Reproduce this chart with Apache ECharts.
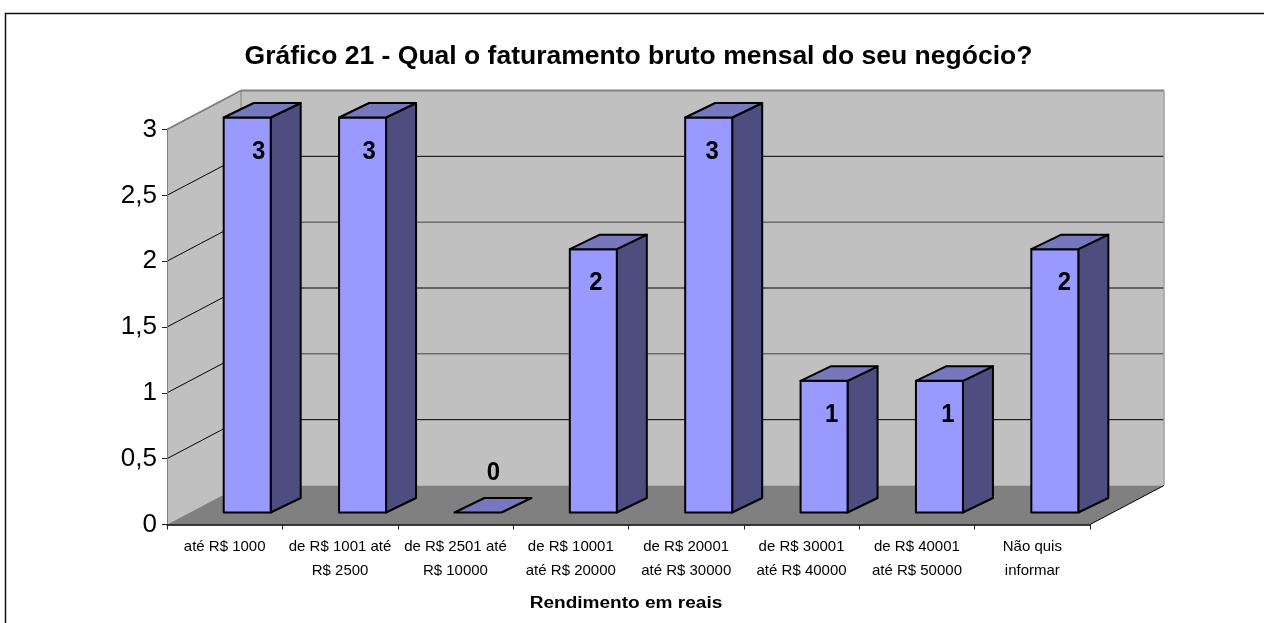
<!DOCTYPE html>
<html>
<head>
<meta charset="utf-8">
<title>Gráfico 21</title>
<style>
  html, body { margin: 0; padding: 0; background: #fff; }
  #chart { width: 1264px; height: 623px; }
</style>
</head>
<body>
<div id="chart"></div>
<script src="https://cdn.jsdelivr.net/npm/echarts@6/dist/echarts.min.js"></script>
<script>
  const titleText = 'Gráfico 21 - Qual o faturamento bruto mensal do seu negócio?';
  const xAxisName = 'Rendimento em reais';
  const categories = [
    'até R$ 1000',
    'de R$ 1001 até\nR$ 2500',
    'de R$ 2501 até\nR$ 10000',
    'de R$ 10001\naté R$ 20000',
    'de R$ 20001\naté R$ 30000',
    'de R$ 30001\naté R$ 40000',
    'de R$ 40001\naté R$ 50000',
    'Não quis\ninformar'
  ];
  const values = [3, 3, 0, 2, 3, 1, 1, 2];
  const gridTicks = [0.5, 1, 1.5, 2, 2.5, 3];

  // fake 3D, everything is an offset from the front plane (the real grid)
  const WALL_DX = 74, WALL_DY = 39;
  const BAR_SHIFT_X = 22.5, BAR_SHIFT_Y = 12;
  const BAR_W = 47, BAR_DX = 30, BAR_DY = 14.5;
  // the value labels do not sit at the same place in every bar
  const labelDx = [34, 29, 38, 25, 26, 30, 31, 32];

  const chart = echarts.init(document.getElementById('chart'), null, { renderer: 'canvas' });

  function poly(points, fill, stroke, width) {
    return {
      type: 'polygon',
      shape: { points: points },
      style: { fill: fill, stroke: stroke || null, lineWidth: width || 0, lineJoin: 'round' }
    };
  }

  function line(x1, y1, x2, y2, color, width) {
    return {
      type: 'line',
      shape: { x1: x1, y1: y1, x2: x2, y2: y2 },
      style: { stroke: color, lineWidth: width || 1 }
    };
  }

  function renderWalls(params, api) {
    const g = params.coordSys;
    const left = g.x, right = g.x + g.width, bottom = g.y + g.height, top = g.y;
    const children = [
      poly([[left + WALL_DX, top - WALL_DY], [right + WALL_DX, top - WALL_DY],
            [right + WALL_DX, bottom - WALL_DY], [left + WALL_DX, bottom - WALL_DY]], '#c0c0c0'),
      poly([[left, top], [left + WALL_DX, top - WALL_DY],
            [left + WALL_DX, bottom - WALL_DY], [left, bottom]], '#c0c0c0'),
      poly([[left, bottom], [left + WALL_DX, bottom - WALL_DY],
            [right + WALL_DX, bottom - WALL_DY], [right, bottom]], '#808080')
    ];
    gridTicks.forEach(function (t, i) {
      const y = api.coord([0, t])[1];
      const color = i % 2 === 0 ? '#000' : '#444';
      children.push(line(left, y, left + WALL_DX, y - WALL_DY, '#000'));
      if (t < 3) {
        children.push(line(left + WALL_DX, y - WALL_DY, right + WALL_DX, y - WALL_DY, color));
      }
    });
    children.push(line(left + WALL_DX, top - WALL_DY, right + WALL_DX, top - WALL_DY, '#808080', 2));
    children.push(line(left, top, left + WALL_DX, top - WALL_DY, '#808080', 1.5));
    children.push(line(left + WALL_DX, top - WALL_DY, left + WALL_DX, bottom - WALL_DY, '#808080'));
    children.push(line(right + WALL_DX, top - WALL_DY, right + WALL_DX, bottom - WALL_DY, '#a0a0a0', 1.5));
    children.push(line(right, bottom, right + WALL_DX, bottom - WALL_DY, '#000', 1));
    return { type: 'group', children: children };
  }

  function renderBar(params, api) {
    const idx = api.value(0);
    const val = api.value(1);
    const top = api.coord([idx, val]);
    const base = api.coord([idx, 0]);
    const x0 = top[0] + BAR_SHIFT_X - BAR_W / 2;
    const x1 = x0 + BAR_W;
    const yt = top[1] - BAR_SHIFT_Y;
    const yb = base[1] - BAR_SHIFT_Y;
    const border = '#000';
    const children = [];
    if (val > 0) {
      children.push(poly([[x1, yt], [x1 + BAR_DX, yt - BAR_DY], [x1 + BAR_DX, yb - BAR_DY], [x1, yb]], '#4d4d80', border, 2));
      children.push(poly([[x0, yt], [x1, yt], [x1, yb], [x0, yb]], '#9999ff', border, 2));
    }
    children.push(poly([[x0, yt], [x0 + BAR_DX, yt - BAR_DY], [x1 + BAR_DX, yt - BAR_DY], [x1, yt]], '#7777bd', border, 2));
    children.push({
      type: 'text',
      x: top[0] + labelDx[idx],
      y: top[1] + (val > 0 ? 22 : -52),
      scaleX: 0.92,
      style: {
        x: 0,
        y: 0,
        text: String(val),
        fill: '#000',
        font: 'bold 26px "Liberation Sans", Arial, sans-serif',
        align: 'center',
        verticalAlign: 'middle'
      }
    });
    return { type: 'group', children: children };
  }

  const option = {
    animation: false,
    backgroundColor: '#fff',
    textStyle: { fontFamily: '"Liberation Sans", Arial, sans-serif', color: '#000' },
    title: {
      text: titleText,
      left: 633.5,
      top: 38,
      textAlign: 'center',
      textStyle: { fontSize: 26.5, fontWeight: 'bold', color: '#000' }
    },
    grid: { left: 167, right: 174, top: 129.5, bottom: 98.5, containLabel: false },
    xAxis: {
      type: 'category',
      data: categories,
      z: 5,
      axisLine: { show: true, lineStyle: { color: '#000', width: 1.5 } },
      axisTick: { show: true, alignWithLabel: false, length: 5, lineStyle: { color: '#222' } },
      axisLabel: { interval: 0, fontSize: 15, lineHeight: 24, margin: 10, color: '#000' }
    },
    yAxis: {
      type: 'value',
      min: 0,
      max: 3,
      interval: 0.5,
      z: 5,
      axisLine: { show: true, lineStyle: { color: '#808080', width: 1 } },
      axisTick: { show: true, length: 5, lineStyle: { color: '#222' } },
      splitLine: { show: false },
      axisLabel: {
        fontSize: 26,
        margin: 10,
        padding: [5, 0, 0, 0],
        color: '#000',
        formatter: function (v) { return String(v).replace('.', ','); }
      }
    },
    series: [
      {
        type: 'custom',
        silent: true,
        z: 1,
        clip: false,
        renderItem: renderWalls,
        data: [[0, 0]]
      },
      {
        type: 'custom',
        silent: true,
        z: 3,
        clip: false,
        renderItem: renderBar,
        encode: { x: 0, y: 1 },
        data: values.map(function (v, i) { return [i, v]; })
      }
    ],
    graphic: [
      {
        type: 'polyline',
        silent: true,
        shape: { points: [[5.5, 623], [5.5, 13.5], [1264, 13.5]] },
        style: { fill: null, stroke: '#111', lineWidth: 1.5 }
      },
      {
        // axis name is spaced out in the original, stretched here to the same width
        type: 'text',
        silent: true,
        x: 626,
        y: 604,
        scaleX: 1.19,
        style: {
          x: 0,
          y: 0,
          text: xAxisName,
          fill: '#000',
          font: 'bold 16px "Liberation Sans", Arial, sans-serif',
          align: 'center',
          verticalAlign: 'middle'
        }
      }
    ]
  };

  chart.setOption(option);
</script>
</body>
</html>
